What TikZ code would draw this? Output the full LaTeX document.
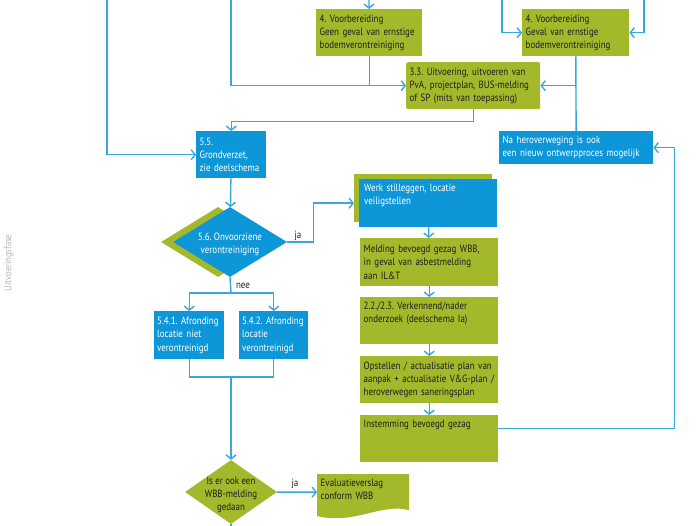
\documentclass[tikz,border=0pt]{standalone}
\usepackage{fontspec}
\setmainfont{PT Sans}[FakeStretch=0.85]
\usetikzlibrary{positioning,arrows.meta,shapes.geometric,shadows}
\definecolor{vblue}{HTML}{0E97D8}
\definecolor{vgreen}{HTML}{A3B82B}
\definecolor{vline}{HTML}{36A7DF}
\definecolor{vtext}{HTML}{1E1E1E}
\hyphenpenalty=10000
\exhyphenpenalty=10000
\newcommand{\toptekst}[2]{\parbox[t][#1][t]{\hsize}{\raggedright #2}}

\begin{document}
\begin{tikzpicture}[
    x=1pt, y=-1pt,
    txt/.style={font=\fontsize{10.5pt}{13.2pt}\selectfont\frenchspacing},
    gbox/.style={txt, fill=vgreen, text=vtext, anchor=north west, align=left, inner xsep=3.5pt, inner ysep=5pt},
    bbox/.style={gbox, fill=vblue, text=white},
    dia/.style={diamond, draw=none, inner sep=0pt},
    lbl/.style={txt, text=vtext, inner sep=1pt},
    line/.style={draw=vline, line width=1.4pt},
    arrow/.style={line, -{Straight Barb[length=4pt,width=10pt]}}
]
\useasboundingbox (0,0) rectangle (700,526);

\node[rotate=90, text=gray!60, font=\fontsize{10pt}{12pt}\selectfont] (fase) at (9,263) {Uitvoeringsfase};

\node[gbox, text width=99pt, minimum height=47pt] (voorbA) at (316,9) {4. Voorbereiding\\Geen geval van ernstige\\bodemverontreiniging};
\node[gbox, text width=100pt, minimum height=47pt] (voorbB) at (522,9) {4. Voorbereiding\\Geval van ernstige\\bodemverontreiniging};
\node[gbox, rounded corners=2pt, text width=127pt, minimum height=47pt] (uitv) at (406,62) {3.3. Uitvoering, uitvoeren van\\PvA, projectplan, BUS-melding\\of SP (mits van toepassing)};
\node[bbox, text width=147pt, minimum height=32pt] (heroverw) at (499,131) {Na heroverweging is ook\\een nieuw ontwerpproces mogelijk};
\node[bbox, text width=63pt, minimum height=47pt] (grond) at (196,131) {5.5.\\Grondverzet,\\zie deelschema};

\node[dia, fill=vblue, minimum width=114pt, minimum height=70pt,
      general shadow={fill=vgreen, shadow xshift=-12pt},
      label={[txt, text=white, align=center, yshift=-2pt]center:5.6. Onvoorziene\\verontreiniging}] (onv) at (230,242) {};

\node[bbox, text width=128pt, minimum height=48pt, inner xsep=5pt,
      general shadow={fill=vgreen, shadow xshift=-5pt, shadow yshift=5pt}] (werk) at (359,179) {\toptekst{38pt}{Werk stilleggen, locatie\\veiligstellen}};
\node[gbox, text width=131pt, minimum height=48pt] (meld) at (360,238) {Melding bevoegd gezag WBB,\\in geval van asbestmelding\\aan IL\&T};
\node[gbox, text width=131pt, minimum height=47pt] (onderz) at (360,297) {\toptekst{37pt}{2.2./2.3. Verkennend/nader\\onderzoek (deelschema Ia)}};
\node[gbox, text width=131pt, minimum height=47pt] (opst) at (360,356) {Opstellen / actualisatie plan van\\aanpak + actualisatie V\&G-plan /\\heroverwegen saneringsplan};
\node[gbox, text width=131pt, minimum height=47pt] (instem) at (360,415) {\toptekst{37pt}{Instemming bevoegd gezag}};

\node[bbox, inner xsep=3pt, text width=64pt, minimum height=48pt] (afr1) at (154,311) {5.4.1. Afronding\\locatie niet\\verontreinigd};
\node[bbox, inner xsep=3pt, text width=63pt, minimum height=48pt] (afr2) at (239,311) {5.4.2. Afronding\\locatie\\verontreinigd};

\node[dia, fill=vgreen, minimum width=92pt, minimum height=64pt,
      label={[txt, text=vtext, align=center, yshift=-3pt]center:Is er ook een\\WBB-melding\\gedaan}] (wbb) at (231,492) {};

\fill[vgreen] (317,474) -- (409,474) -- (409,510) .. controls (380,503) and (355,525) .. (317,516) -- cycle;
\node[gbox, fill=none, text width=85pt, minimum height=36pt] (eval) at (317,474) {\toptekst{26pt}{Evaluatieverslag\\conform WBB}};

\node[lbl] (ja1) at (298,236) {ja};
\node[lbl] (nee) at (243,286) {nee};
\node[lbl] (ja2) at (295,484) {ja};

\coordinate (inA) at (107,0);
\coordinate (inB) at (231,0);
\coordinate (inC) at (369,0);
\coordinate (inD) at (502,0);
\coordinate (inE) at (644,0);
\coordinate (splitA) at (231,293);
\coordinate (joinB) at (231,377);
\coordinate (outA) at (231,526);

\draw[arrow] (inA) |- (grond);
\draw[arrow] (inB) |- (uitv);
\draw[arrow] (inC) -- (voorbA);
\draw[line] (voorbA) -- (voorbA |- uitv);
\draw[arrow] (inD) |- (voorbB);
\draw[arrow] (inE) |- (voorbB);
\draw[line] (voorbB) -- (heroverw);
\draw[arrow] (voorbB |- uitv) -- (uitv);
\draw[arrow] (uitv.south) -- ++(0,12) -| (grond.north);
\draw[arrow] (grond) -- (onv);
\draw[arrow] (onv.east) -- ++(26,0) |- ([xshift=-5pt]werk.west);
\draw[line] (onv.south) -- (splitA);
\draw[arrow] (splitA) -| (afr1);
\draw[arrow] (splitA) -| (afr2);
\draw[line] (afr1.south) |- (joinB) -| (afr2.south);
\draw[arrow] (joinB) -- (wbb);
\draw[arrow] (wbb) -- (eval);
\draw[line] (wbb) -- (outA);
\draw[arrow] (werk) -- (meld);
\draw[arrow] (meld) -- (onderz);
\draw[arrow] (onderz) -- (opst);
\draw[arrow] (opst) -- (instem);
\draw[arrow] ([yshift=10pt]instem.east) -- ++(176,0) |- (heroverw);
\end{tikzpicture}
\end{document}
